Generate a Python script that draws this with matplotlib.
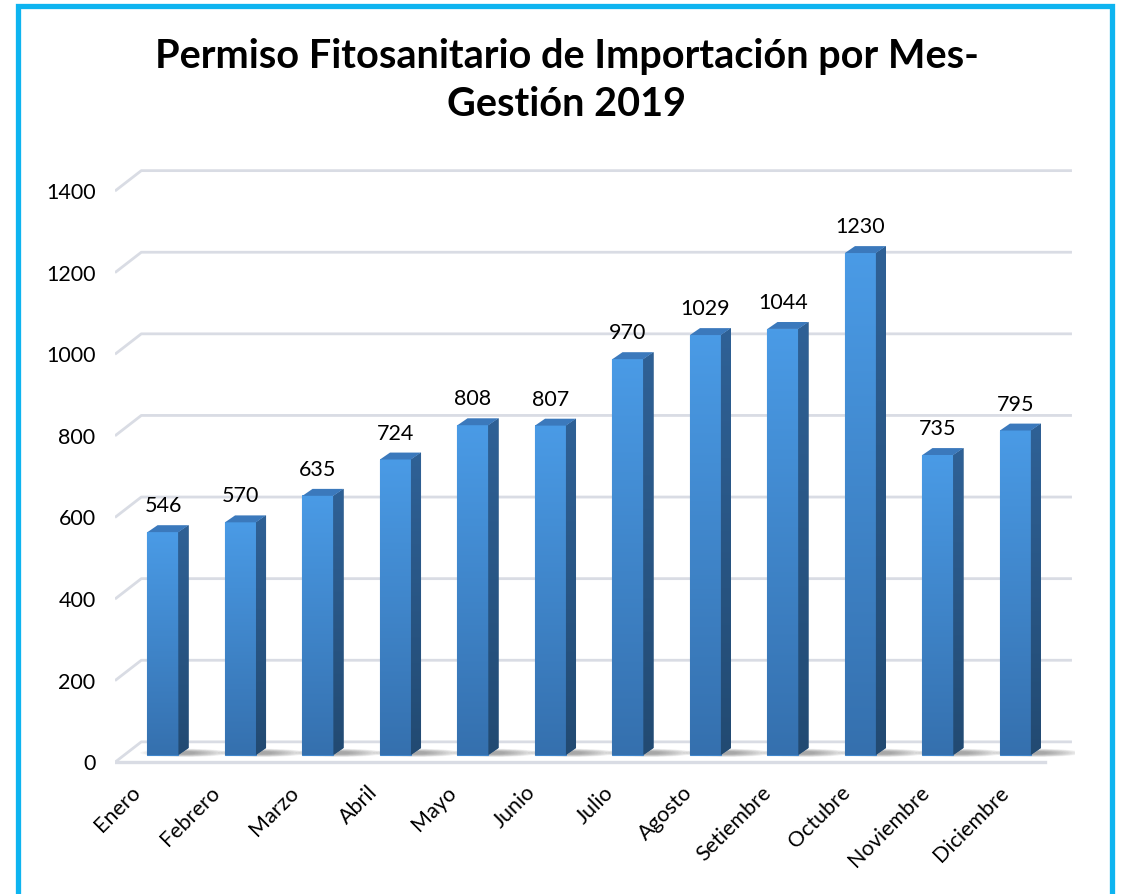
import numpy as np
import matplotlib
matplotlib.use("Agg")
import matplotlib.pyplot as plt
from matplotlib.patches import Polygon, Rectangle, Ellipse
from matplotlib.colors import LinearSegmentedColormap

# datos
meses = ["Enero", "Febrero", "Marzo", "Abril", "Mayo", "Junio", "Julio",
         "Agosto", "Setiembre", "Octubre", "Noviembre", "Diciembre"]
permisos = [546, 570, 635, 724, 808, 807, 970, 1029, 1044, 1230, 735, 795]
y_ticks = [0, 200, 400, 600, 800, 1000, 1200, 1400]

plt.rcParams['font.family'] = ['Lato', 'DejaVu Sans']

fig = plt.figure(figsize=(11.27, 8.94), dpi=100)
ax = fig.add_axes([0.1020, 0.1387, 0.8519, 0.6823])
XMIN, XMAX = -0.62, 11.77
YMIN, YMAX = -37, 1458

# pseudo 3D geometry (data units)
back_dx, back_dy = 0.34, 32      # back wall offset from bar plane
front_dy = -18                   # front plane offset
hw = 0.2                         # half width of bar front face
ddx, ddy = 0.13, 17              # bar depth

grid_col = '#D9DCE4'
front_cmap = LinearSegmentedColormap.from_list('f', ['#3570AE', '#4A9BE6'])
side_cmap = LinearSegmentedColormap.from_list('s', ['#224A72', '#2F6196'])
top_col = '#3B79BC'

# gridlines: back wall + left slant
x_back_r = 11.73
for v in y_ticks:
    ax.plot([XMIN, XMIN + back_dx, x_back_r], [v + front_dy, v + back_dy, v + back_dy],
            color=grid_col, lw=2, zorder=1, solid_capstyle='butt')
# floor front edge
ax.plot([XMIN, 11.38], [front_dy, front_dy], color=grid_col, lw=2.4, zorder=1)

grad = np.linspace(0, 1, 256).reshape(-1, 1)
for i, v in enumerate(permisos):
    # soft shadow at base
    for k in range(12):
        ax.add_patch(Ellipse((i + 0.28, 5), 1.15 - k * 0.08, 20 - k * 1.2,
                             facecolor='#4A4A4A', edgecolor='none', alpha=0.05, zorder=2))
    x0, x1 = i - hw, i + hw
    # backing so the gradient image leaves no light seam
    ax.add_patch(Rectangle((x0, 0), 2 * hw, v, facecolor='#3F86CC',
                           edgecolor='#3F86CC', lw=0.8, zorder=2.9))
    ax.imshow(grad, extent=[x0, x1, 0, v], origin='lower', cmap=front_cmap,
              aspect='auto', zorder=3, interpolation='nearest')
    side = Polygon([[x1, 0], [x1 + ddx, ddy], [x1 + ddx, v + ddy], [x1, v]],
                   closed=True, facecolor='#28547F', edgecolor='none', zorder=2.95)
    ax.add_patch(side)
    im = ax.imshow(grad, extent=[x1 - 0.01, x1 + ddx, 0, v + ddy], origin='lower',
                   cmap=side_cmap, aspect='auto', zorder=3, interpolation='nearest')
    im.set_clip_path(side)
    ax.add_patch(Polygon([[x0, v], [x1, v], [x1 + ddx, v + ddy], [x0 + ddx, v + ddy]],
                         closed=True, facecolor=top_col, edgecolor='none', zorder=4))
    ax.text(i, v + ddy + 22, str(v), ha='center', va='bottom', fontsize=15.5,
            color='black', zorder=5)

ax.set_xlim(XMIN, XMAX)
ax.set_ylim(YMIN, YMAX)
for s in ax.spines.values():
    s.set_visible(False)

ax.set_yticks([v + front_dy for v in y_ticks])
ax.set_yticklabels([str(v) for v in y_ticks], fontsize=15.5)
ax.tick_params(axis='y', length=0, pad=14)

lab_pos = [-0.33 + 1.018 * i for i in range(len(meses))]
ax.set_xticks(lab_pos)
ax.set_xticklabels(meses, rotation=45, ha='right', va='center',
                   rotation_mode='anchor', fontsize=15.5)
ax.tick_params(axis='x', length=0, pad=14)

fig.text(0.503, 0.937, "Permiso Fitosanitario de Importación por Mes-",
         ha='center', va='center', fontsize=28.5, fontweight='bold')
fig.text(0.503, 0.883, "Gestión 2019", ha='center', va='center',
         fontsize=28.5, fontweight='bold')

fig.add_artist(Rectangle((17.5 / 1127, -0.02), (1112 - 17.5) / 1127, 1.02 - 5.5 / 894,
                         transform=fig.transFigure, fill=False,
                         edgecolor='#0EB4F0', linewidth=3.8))

fig.savefig('out.png', dpi=100, facecolor='white')
